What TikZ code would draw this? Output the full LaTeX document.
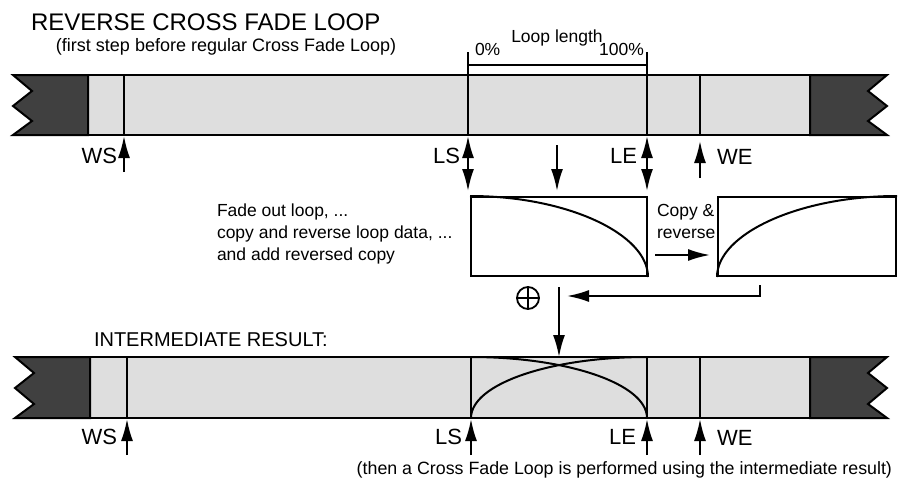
\documentclass[tikz,border=0pt]{standalone}
\usepackage{fontspec}
\setmainfont{Liberation Sans}
\usetikzlibrary{arrows.meta,positioning}
\definecolor{bargrey}{RGB}{222,222,222}
\definecolor{enddark}{RGB}{64,64,64}

\begin{document}
\begin{tikzpicture}[x=1pt, y=-1pt, line width=2pt,
  bar/.style={draw, fill=bargrey},
  endcap/.style={draw, fill=enddark},
  arr/.style={-{Latex[length=22pt, width=12pt]}},
  dblarr/.style={{Latex[length=22pt, width=12pt]}-{Latex[length=22pt, width=12pt]}},
  lbl/.style={font=\fontsize{22}{24}\selectfont, inner sep=0pt},
  txt/.style={font=\fontsize{17.5}{22}\selectfont, align=left, inner sep=0pt},
  fadebox/.style={draw, minimum width=176, minimum height=79, inner sep=0pt}
]
\useasboundingbox (0,0) rectangle (898,483);

% titles
\node[font=\fontsize{24}{26}\selectfont, anchor=west, inner sep=0pt] (title) at (30,22) {REVERSE CROSS FADE LOOP};
\node[txt, font=\fontsize{18}{22}\selectfont, anchor=west] (subtitle) at (55,47) {(first step before regular Cross Fade Loop)};

% original sample data
\draw[bar] (88,75) rectangle (810,135);
\draw[endcap] (13,75) -- (88,75) -- (88,135) -- (13,135) -- (32,121) -- (13,106) -- (32,91) -- cycle;
\draw[endcap] (810,75) -- (887,75) -- (868,91) -- (887,106) -- (868,121) -- (887,135) -- (810,135) -- cycle;
\foreach \x/\n in {124/ws,468/ls,647/le,700/we} {
  \draw (\x,75) -- (\x,135);
  \coordinate (\n-top) at (\x,136);
  \coordinate (\n-foot) at (\x,172);
}

% loop length bracket
\draw (468,52) -- (468,75) (647,52) -- (647,75) (468,65) -- (647,65);
\node[txt, anchor=south west] (zero) at (474,57) {0\%};
\node[txt, anchor=south] (looplen) at (557,47) {Loop length};
\node[txt, anchor=south east] (hundred) at (645,57) {100\%};

% markers below the data
\draw[arr] (ws-foot) -- (ws-top);
\draw[arr] ([yshift=-6pt]we-foot) -- ([yshift=-5pt]we-top);
\node[lbl, anchor=east] (wslbl) at (118,156) {WS};
\node[lbl, anchor=east] (lslbl) at (461,156) {LS};
\node[lbl, anchor=east] (lelbl) at (638,156) {LE};
\node[lbl, anchor=west] (welbl) at (716,157) {WE};

% processing boxes
\node[fadebox] (fadeout) at (559,236.5) {};
\node[fadebox, minimum width=178] (fadein) at (807,236.5) {};
\draw (fadeout.north west) .. controls +(97,0) and +(0,-43) .. (fadeout.south east);
\draw (fadein.south west) .. controls +(0,-43) and +(-98,0) .. (fadein.north east);
\coordinate (mid-top) at (557,145);
\coordinate (ls-box) at (468,191);
\coordinate (mid-box) at (557,191);
\coordinate (le-box) at (647,191);
\draw[dblarr] (ls-top) -- (ls-box);
\draw[dblarr] (le-top) -- (le-box);
\draw[arr] (mid-top) -- (mid-box);

\node[txt, anchor=north west] (steps) at (216,203) {Fade out loop, ...\\copy and reverse loop data, ...\\and add reversed copy};
\node[txt, anchor=north west] (copytxt) at (656,203) {Copy \&\\reverse};
\coordinate (copy-a) at (655,255);
\coordinate (copy-b) at (710,255);
\draw[arr] (copy-a) -- (copy-b);

% adding the reversed copy
\node[circle, draw, minimum size=22, inner sep=0pt, line width=1.8pt] (sum) at (528,298) {};
\draw[line width=1.8pt] (sum.north) -- (sum.south) (sum.west) -- (sum.east);
\coordinate (ret-a) at (760,285);
\coordinate (ret-b) at (760,296);
\coordinate (ret-c) at (567,296);
\draw[arr] (ret-a) -- (ret-b) -- (ret-c);
\coordinate (res-a) at (559,287);
\coordinate (res-b) at (559,357);
\draw[arr] (res-a) -- (res-b);

% intermediate result
\node[font=\fontsize{20}{22}\selectfont, anchor=west, inner sep=0pt] (interm) at (93,340) {INTERMEDIATE RESULT:};
\draw[bar] (90,357) rectangle (810,418);
\draw[endcap] (15,357) -- (90,357) -- (90,418) -- (15,418) -- (34,404) -- (15,388) -- (34,373) -- cycle;
\draw[endcap] (810,357) -- (887,357) -- (868,373) -- (887,388) -- (868,404) -- (887,418) -- (810,418) -- cycle;
\foreach \x/\n in {127/ws,471/ls,647/le,700/we} {
  \draw (\x,357) -- (\x,418);
  \coordinate (\n-low) at (\x,419);
  \coordinate (\n-end) at (\x,455);
  \draw[arr] (\n-end) -- (\n-low);
}
\draw (471,357) .. controls (568,357) and (647,384) .. (647,418);
\draw (471,418) .. controls (471,384) and (550,357) .. (647,357);
\node[lbl, anchor=east] (wslbl2) at (118,437) {WS};
\node[lbl, anchor=east] (lslbl2) at (463,437) {LS};
\node[lbl, anchor=east] (lelbl2) at (637,437) {LE};
\node[lbl, anchor=west] (welbl2) at (716,438) {WE};

\node[txt, font=\fontsize{17.8}{22}\selectfont, anchor=east] (note) at (893,470) {(then a Cross Fade Loop is performed using the intermediate result)};
\end{tikzpicture}
\end{document}
